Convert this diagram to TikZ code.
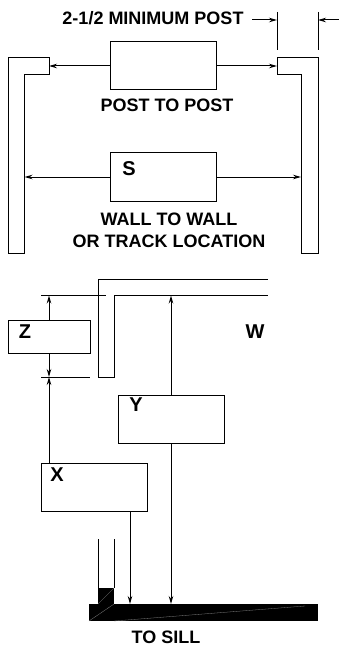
\documentclass[tikz,border=0pt]{standalone}
\usepackage{fontspec}
\setmainfont{Liberation Sans}
\usetikzlibrary{arrows.meta}
\begin{document}
\begin{tikzpicture}
  [ x=1pt, y=-1pt, line width=1pt
  , box/.style={draw=black, shape=rectangle, anchor=north west, inner sep=0pt, outer sep=0pt}
  , bigbox/.style={box, minimum width=106pt, minimum height=48pt}
  , lbl/.style={font=\bfseries\fontsize{18}{20}\selectfont, inner sep=0pt}
  , letter/.style={lbl, font=\bfseries\fontsize{20}{22}\selectfont}
  , dim/.style={-{Stealth[length=8pt, width=4.5pt]}}
  ]
  \useasboundingbox (0,0) rectangle (339,647);

  % top: post to post
  \node[bigbox] (post) at (110,42) {};
  \draw (8,253) -- (8,58) -- (49,58) -- (49,74.5) -- (24.5,74.5) -- (24.5,253) -- cycle;
  \draw (277,58) -- (318,58) -- (318,253) -- (301,253) -- (301,74.5) -- (277,74.5) -- cycle;
  \coordinate (postl) at (49,66);
  \coordinate (postr) at (277,66);
  \draw[dim] (post.west |- postl) -- (postl);
  \draw[dim] (post.east |- postr) -- (postr);

  \coordinate (tickl) at (277,12);
  \coordinate (tickr) at (318,12);
  \draw (tickl) -- (277,50);
  \draw (tickr) -- (318,50);
  \coordinate (arrl) at (252,20);
  \coordinate (arrr) at (339,20);
  \draw[dim] (arrl) -- (arrl -| tickl);
  \draw[dim] (arrr) -- (arrr -| tickr);

  \node[lbl] (mini) at (153,18) {2-1/2 MINIMUM POST};
  \node[lbl] (ptp)  at (167,105) {POST TO POST};

  % wall to wall
  \node[bigbox] (s) at (110,153) {};
  \coordinate (walll) at (24.5,177);
  \coordinate (wallr) at (301,177);
  \draw[dim] (s.west |- walll) -- (walll);
  \draw[dim] (s.east |- wallr) -- (wallr);
  \node[letter] (slbl) at (129,169) {S};
  \node[lbl] (wtw) at (169,219) {WALL TO WALL};
  \node[lbl] (otl) at (169,241) {OR TRACK LOCATION};

  % wall section
  \draw (268,279) -- (98,279) -- (98,377) -- (114,377) -- (114,295.5) -- (268,295.5);
  \coordinate (ztop) at (41,295.5);
  \coordinate (zbot) at (41,377);
  \draw (ztop) -- (106,295.5);
  \draw (zbot) -- (90,377);
  \node[box, minimum width=82pt, minimum height=33pt] (z) at (8,320) {};
  \node[bigbox] (y) at (118,395.5) {};
  \node[bigbox] (x) at (41,463) {};
  \node[letter] (zlbl) at (25,332) {Z};
  \node[letter] (wlbl) at (255,332) {W};
  \node[letter] (ylbl) at (136,405) {Y};
  \node[letter] (xlbl) at (57,475) {X};

  \coordinate (zup) at (49,295.5);
  \coordinate (zdn) at (49,377);
  \coordinate (yup) at (171,295.5);
  \draw[dim] (z.north -| zup) -- (zup);
  \draw[dim] (z.south -| zdn) -- (zdn);
  \draw[dim] (x.north -| zdn) -- (zdn);
  \draw[dim] (y.north -| yup) -- (yup);

  % sill
  \fill (89,604) rectangle (318,621);
  \fill (98,588) rectangle (114,604);
  \draw (98,539) -- (98,588);
  \draw (114,539) -- (114,588);
  \draw[gray, line width=0.3pt] (98,604) -- (114,588);
  \draw[gray, line width=0.3pt] (89,621) -- (114,604);
  \draw[gray, line width=0.3pt] (114,621) -- (305,606);
  \coordinate (xdn) at (130,604);
  \coordinate (ydn) at (171,604);
  \draw[dim] (x.south -| xdn) -- (xdn);
  \draw[dim] (y.south -| ydn) -- (ydn);
  \node[lbl] (sill) at (166,637) {TO SILL};
\end{tikzpicture}
\end{document}
